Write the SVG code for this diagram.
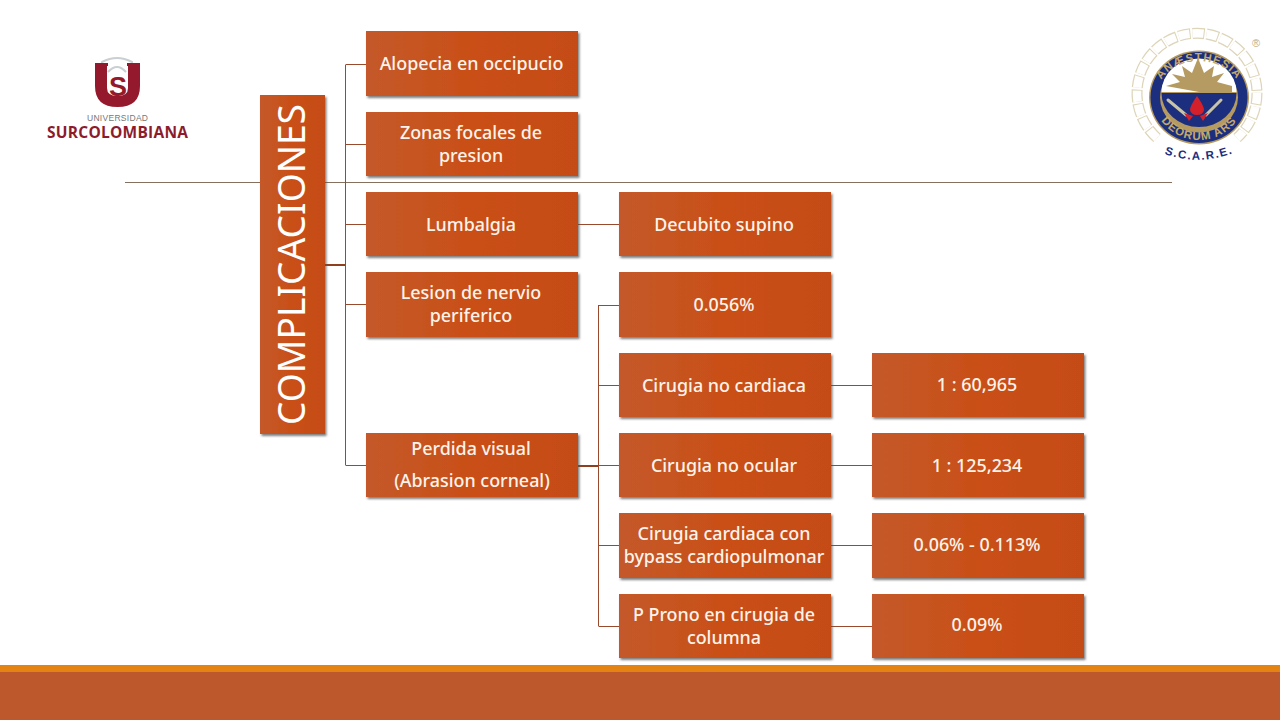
<svg xmlns="http://www.w3.org/2000/svg" width="1280" height="720" viewBox="0 0 1280 720">
<style>
.box{fill:url(#g);filter:url(#s)}
.t{font-family:"Noto Sans","Open Sans","Liberation Sans",sans-serif;font-size:17.9px;font-weight:500;fill:#fdf3ea;text-anchor:middle}
.c{fill:none;stroke:#9a4a2c;stroke-width:1}
.c2{fill:none;stroke:#8f3f1e;stroke-width:2}
.gold{fill:#b59a62}
.lg{font-family:"Liberation Sans",sans-serif;font-weight:700}
</style>
<defs>
<linearGradient id="g" x1="0" y1="0" x2="1" y2="0"><stop offset="0" stop-color="#c4592a"/><stop offset=".5" stop-color="#c94f17"/><stop offset="1" stop-color="#c54c15"/></linearGradient>
<filter id="s" x="-10%" y="-10%" width="120%" height="125%"><feDropShadow dx="1.5" dy="2" stdDeviation="1.2" flood-color="#555" flood-opacity=".75"/></filter>
<path id="top" d="M1156 97A43 36 0 0 1 1242 97"/>
<path id="bot" d="M1153 95A46 45 0 0 0 1245 95"/>
<path id="sc" d="M1162 153Q1198 167 1236 152"/>
</defs>
<rect width="1280" height="720" fill="#fff"/>
<rect x="0" y="665" width="1280" height="7" fill="#e48312"/>
<rect x="0" y="672" width="1280" height="48" fill="#bd582c"/>
<line x1="125" y1="182.500" x2="1172" y2="182.500" stroke="#85705f" stroke-width="1"/>

<g id="logo-left">
<path d="M102 68V62Q117 54 132 62V68M108 72Q117 62 126 72" fill="none" stroke="#c9cfd2" stroke-width="2"/>
<path d="M95 63H108V66H107V88Q107 96 117.500 96Q128 96 128 88V66H127V63H140V86Q140 107 117.500 107Q95 107 95 86Z" fill="#95192c"/>
<text x="118" y="96" class="lg" font-size="27" fill="#95192c" text-anchor="middle">S</text>
<text x="117.500" y="121" font-family="Liberation Sans,sans-serif" font-size="8.500" fill="#777" text-anchor="middle" textLength="61">UNIVERSIDAD</text>
<text x="117.500" y="138" font-family="Open Sans,Liberation Sans,sans-serif" font-size="15.500" font-weight="700" fill="#8c1c2c" text-anchor="middle" textLength="141">SURCOLOMBIANA</text>
</g>

<g id="logo-right">
<path d="M1157 138A60 60 0 1 1 1237 138" fill="none" stroke="#ddd5b8" stroke-width="11" stroke-dasharray="12 2"/>
<path d="M1157 138A60 60 0 1 1 1237 138" fill="none" stroke="#fff" stroke-width="8.500" stroke-dasharray="11 3"/>
<ellipse cx="1199" cy="97.500" rx="50" ry="47" fill="#b59a62"/>
<ellipse cx="1199" cy="97.500" rx="48.500" ry="45.500" fill="#1c2f7e"/>
<ellipse cx="1199" cy="97.500" rx="39" ry="35" fill="#b59a62"/>
<path d="M1161.500 92A37.500 33.500 0 0 1 1236.500 92Z" fill="#fff"/>
<path class="gold" d="M1199 92L1166 86L1180 82L1172 74L1185 77L1182 66L1192 73L1198 58L1204 73L1214 66L1212 77L1224 73L1217 82L1232 86L1232 92Z"/>
<path d="M1161.500 93H1236.500A37.500 34 0 0 1 1161.500 93Z" fill="#1c2f7e"/>
<path d="M1197 96Q1190 106 1190 110Q1191 115 1197 115Q1203 115 1204 110Q1204 106 1197 96Z" fill="#d4202a"/>
<path d="M1168 100L1186 115M1221 100L1206 115" stroke="#c9c4a8" stroke-width="3" stroke-linecap="round"/>
<path d="M1184 113L1193 116L1189 121ZM1208 113L1200 116L1203 121Z" fill="#d4202a"/>
<text class="lg" font-size="11.500" fill="#c4a96c" letter-spacing="1"><textPath href="#top" startOffset="50%" text-anchor="middle">ANÆSTHESIA</textPath></text>
<text class="lg" font-size="11.500" fill="#c4a96c" letter-spacing="1"><textPath href="#bot" startOffset="50%" text-anchor="middle">DEORUM ARS</textPath></text>
<text class="lg" font-size="11.500" fill="#1c2f7e" letter-spacing="1.500"><textPath href="#sc" startOffset="50%" text-anchor="middle">S.C.A.R.E.</textPath></text>
<text x="1256" y="47" font-family="Liberation Sans,sans-serif" font-size="11" fill="#b8ac8a" text-anchor="middle">®</text>
</g>

<g id="connectors">
<path class="c2" d="M325 265H345"/>
<path class="c" d="M345.500 65V465M345.500 64.500H366M345.500 144.500H366M345.500 224.500H366M345.500 304.500H366M345.500 465.500H366M578 224.500H619"/>
<path class="c2" d="M578 466H598"/>
<path class="c" d="M598.500 305V626M598.500 305.500H619M598.500 385.500H619M598.500 465.500H619M598.500 545.500H619M598.500 626.500H619M831 385.500H872M831 465.500H872M831 545.500H872M831 626.500H872"/>
</g>

<g id="n-root"><rect class="box" x="260" y="95" width="65" height="339"/>
<text transform="translate(305 264.500) rotate(-90)" font-family="Noto Sans,Open Sans,Liberation Sans,sans-serif" font-size="38" fill="#fff" text-anchor="middle" textLength="321" lengthAdjust="spacingAndGlyphs">COMPLICACIONES</text></g>
<g id="n-alopecia"><rect class="box" x="366" y="31" width="212" height="65"/><text class="t" x="471.500" y="70">Alopecia en occipucio</text></g>
<g id="n-zonas"><rect class="box" x="366" y="112" width="212" height="64"/><text class="t" x="471" y="139">Zonas focales de</text><text class="t" x="471" y="162">presion</text></g>
<g id="n-lumbalgia"><rect class="box" x="366" y="192" width="212" height="64"/><text class="t" x="471" y="231">Lumbalgia</text></g>
<g id="n-lesion"><rect class="box" x="366" y="272" width="212" height="65"/><text class="t" x="471" y="299">Lesion de nervio</text><text class="t" x="471" y="322">periferico</text></g>
<g id="n-perdida"><rect class="box" x="366" y="433" width="212" height="64"/><text class="t" x="471" y="455">Perdida visual</text><text class="t" x="472" y="487">(Abrasion corneal)</text></g>
<g id="n-decubito"><rect class="box" x="619" y="192" width="212" height="64"/><text class="t" x="724" y="231">Decubito supino</text></g>
<g id="n-0056"><rect class="box" x="619" y="272" width="212" height="65"/><text class="t" x="724" y="311">0.056%</text></g>
<g id="n-nocardiaca"><rect class="box" x="619" y="353" width="212" height="64"/><text class="t" x="724" y="392">Cirugia no cardiaca</text></g>
<g id="n-noocular"><rect class="box" x="619" y="433" width="212" height="64"/><text class="t" x="724" y="472">Cirugia no ocular</text></g>
<g id="n-bypass"><rect class="box" x="619" y="513" width="212" height="65"/><text class="t" x="724" y="540">Cirugia cardiaca con</text><text class="t" x="724" y="563">bypass cardiopulmonar</text></g>
<g id="n-prono"><rect class="box" x="619" y="594" width="212" height="64"/><text class="t" x="724" y="621">P Prono en cirugia de</text><text class="t" x="724" y="644">columna</text></g>
<g id="n-60965"><rect class="box" x="872" y="353" width="212" height="64"/><text class="t" x="977" y="391">1 : 60,965</text></g>
<g id="n-125234"><rect class="box" x="872" y="433" width="212" height="64"/><text class="t" x="977" y="472">1 : 125,234</text></g>
<g id="n-006"><rect class="box" x="872" y="513" width="212" height="65"/><text class="t" x="977" y="551">0.06% - 0.113%</text></g>
<g id="n-009"><rect class="box" x="872" y="594" width="212" height="64"/><text class="t" x="977" y="631">0.09%</text></g>
</svg>
